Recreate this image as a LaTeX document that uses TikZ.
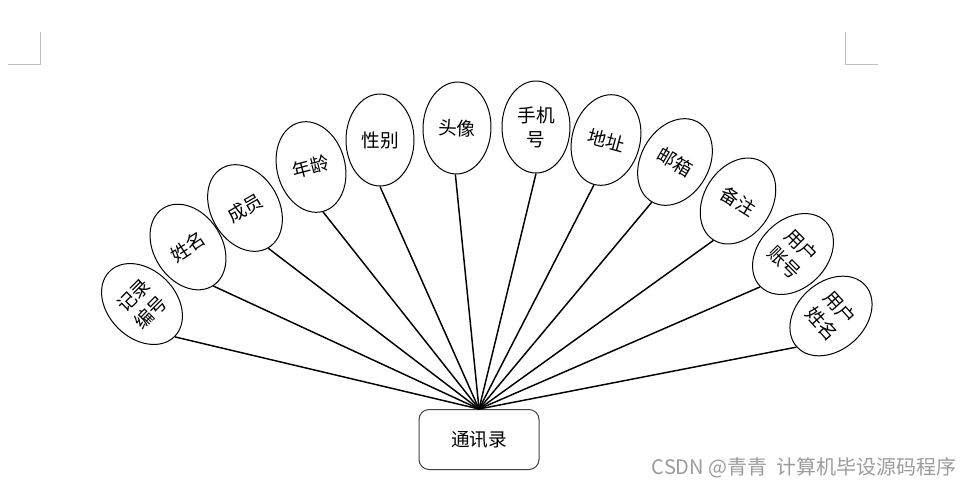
\documentclass[tikz,border=0pt]{standalone}
\usepackage{fontspec}
\usetikzlibrary{shapes.geometric}
\newfontfamily\cjk{Noto Sans CJK SC}

\tikzset{every picture/.style={line width=0.75pt}}
\tikzset{
  attr/.style={draw, ellipse, minimum width=51pt, minimum height=69pt, inner sep=0pt, align=center, font=\cjk\fontsize{14}{18}\selectfont},
  entity/.style={draw=black!75, rounded corners=7.5pt, minimum width=90pt, minimum height=45pt, font=\cjk\fontsize{14}{18}\selectfont},
  link/.style={line width=1.1pt}
}

\begin{document}
\begin{tikzpicture}[x=0.75pt,y=0.75pt,yscale=-1,xscale=1]
\useasboundingbox (0,0) rectangle (972,487);

%Crop marks
\draw [color={rgb, 255:red, 192; green, 192; blue, 192 }] (40,32) -- (40,64) -- (8,64) ;
\draw [color={rgb, 255:red, 192; green, 192; blue, 192 }] (845,32) -- (845,64) -- (878,64) ;

%Rounded Rect
\node [entity] (txl) at (479,439.5) {通讯录};

%Ellipses
\node [attr, rotate=45] (jlbh) at (142,304) {记录\\编号};
\node [attr, rotate=33] (xm) at (188,247) {姓名};
\node [attr, rotate=30] (cy) at (245,208) {成员};
\node [attr, rotate=15] (nl) at (311,167) {年龄};
\node [attr] (xb) at (380,140) {性别};
\node [attr, rotate=-2] (tx) at (457,128) {头像};
\node [attr] (sjh) at (536,127) {手机\\号};
\node [attr, rotate=-15] (dz) at (606,140) {地址};
\node [attr, rotate=-30] (yx) at (675,162) {邮箱};
\node [attr, rotate=-32] (bz) at (738,201) {备注};
\node [attr, rotate=-45] (yhzh) at (793,254) {用户\\账号};
\node [attr, rotate=-48] (yhxm) at (831,316) {用户\\姓名};

%Straight Lines
\draw [link] (txl.north) -- (jlbh.south) ;
\draw [link] (txl.north) -- (xm.south) ;
\draw [link] (txl.north) -- (cy.south) ;
\draw [link] (txl.north) -- (nl.south) ;
\draw [link] (txl.north) -- (xb.south) ;
\draw [link] (txl.north) -- (tx.south) ;
\draw [link] (txl.north) -- (sjh.south) ;
\draw [link] (txl.north) -- (dz.south) ;
\draw [link] (txl.north) -- (yx.south) ;
\draw [link] (txl.north) -- (bz.south) ;
\draw [link] (txl.north) -- (yhzh.south) ;
\draw [link] (txl.north) -- (yhxm.south) ;

% Text Node
\node [anchor=east, inner sep=0pt, font=\cjk\fontsize{15}{16}\selectfont, color={rgb, 255:red, 155; green, 155; blue, 155 }] (wm) at (957,468) {CSDN @青青\ \ 计算机毕设源码程序};

\end{tikzpicture}
\end{document}
